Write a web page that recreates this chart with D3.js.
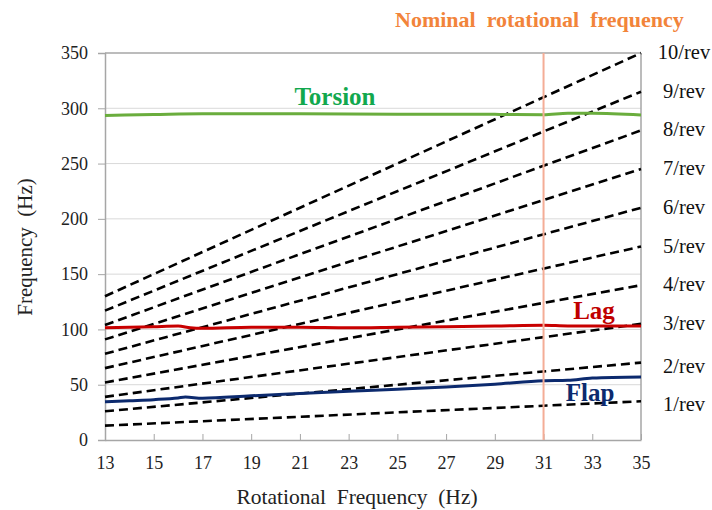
<!DOCTYPE html>
<html>
<head>
<meta charset="utf-8">
<script src="https://cdn.jsdelivr.net/npm/d3@7.9.0/dist/d3.min.js"></script>
</head>
<body style="margin:0;background:#fff">
<svg id="chart" width="712" height="510"></svg>
<script>
// harmonic lines n/rev: frequency at 13 Hz and at 35 Hz
const revOrders = [1, 2, 3, 4, 5, 6, 7, 8, 9, 10];
const revStart = [13, 26, 39, 52, 65, 78, 91, 104, 117, 130];
const revEnd = [35, 70, 105, 140, 175, 210, 245, 280, 315, 350];

// measured modes
const flapX = [13, 14, 15, 16, 16.3, 17, 19, 21, 23, 25, 27, 29, 31, 32, 33, 35];
const flapY = [34.5, 35.5, 36.5, 38, 38.8, 37.8, 40, 42, 44, 46, 48, 50.5, 53.5, 54, 56, 57];
const lagX = [13, 15, 16, 16.5, 17, 19, 21, 23, 25, 27, 29, 31, 32, 35];
const lagY = [101.5, 102.5, 103, 101.5, 101, 102, 102, 101.5, 102, 102.5, 103, 103.8, 103.2, 103.2];
const torX = [13, 15, 17, 21, 25, 29, 31, 32, 33, 35];
const torY = [293.5, 294.3, 295, 295, 294.5, 294.5, 294.2, 295.5, 295.5, 294];

const xTicks = [13, 15, 17, 19, 21, 23, 25, 27, 29, 31, 33, 35];
const yTicks = [0, 50, 100, 150, 200, 250, 300, 350];
const nominalFreq = 31;

const FONT = '"Liberation Serif", "Times New Roman", serif';
const svg = d3.select('#chart');
const m = { left: 105, right: 71, top: 53, bottom: 70 };
const W = 712, H = 510;

const x = d3.scaleLinear().domain([13, 35]).range([m.left, W - m.right]);
const y = d3.scaleLinear().domain([0, 350]).range([H - m.bottom, m.top]);

// gridlines
svg.append('g')
  .selectAll('line')
  .data(yTicks.slice(1))
  .join('line')
  .attr('x1', m.left).attr('x2', W - m.right)
  .attr('y1', d => y(d)).attr('y2', d => y(d))
  .attr('stroke', d => d === 350 ? '#a6a6a6' : '#d9d9d9')
  .attr('stroke-width', d => d === 350 ? 1.5 : 1);

// right border
svg.append('line')
  .attr('x1', W - m.right).attr('x2', W - m.right)
  .attr('y1', m.top).attr('y2', H - m.bottom)
  .attr('stroke', '#a6a6a6').attr('stroke-width', 1.5);

// y axis
const yAxis = svg.append('g')
  .attr('transform', `translate(${m.left},0)`)
  .call(d3.axisLeft(y).tickValues(yTicks).tickSize(7).tickPadding(10));
yAxis.select('.domain').attr('stroke', '#a6a6a6').attr('stroke-width', 1.5);
yAxis.selectAll('.tick line').attr('stroke', '#a6a6a6');
yAxis.selectAll('.tick text')
  .style('font-family', FONT).style('font-size', '18px').attr('fill', '#222');

// x axis (ticks pointing into the plot)
const xAxis = svg.append('g')
  .attr('transform', `translate(0,${H - m.bottom})`)
  .call(d3.axisBottom(x).tickValues(xTicks).tickSizeInner(-6).tickSizeOuter(0).tickPadding(16));
xAxis.select('.domain').attr('stroke', '#a6a6a6').attr('stroke-width', 1.5);
xAxis.selectAll('.tick line').attr('stroke', '#a6a6a6');
xAxis.selectAll('.tick text')
  .style('font-family', FONT).style('font-size', '18px').attr('fill', '#222');

// helper for plain labels
function label(px, py, str, size, color, bold, anchor) {
  return svg.append('text')
    .attr('x', px).attr('y', py)
    .attr('text-anchor', anchor || 'middle')
    .style('font-family', FONT)
    .style('font-size', size + 'px')
    .style('font-weight', bold ? 'bold' : 'normal')
    .style('white-space', 'pre')
    .attr('fill', color)
    .text(str);
}

// axis titles
label(357, 504, 'Rotational  Frequency  (Hz)', 21.5, '#222');
label(0, 0, 'Frequency  (Hz)', 21, '#222')
  .attr('transform', 'translate(32,247) rotate(-90)');

// n/rev dashed lines
svg.append('g')
  .selectAll('line')
  .data(revOrders)
  .join('line')
  .attr('x1', x(13)).attr('x2', x(35))
  .attr('y1', (d, i) => y(revStart[i]))
  .attr('y2', (d, i) => y(revEnd[i]))
  .attr('stroke', '#000')
  .attr('stroke-width', 2.6)
  .attr('stroke-dasharray', '9,5');

// mode curves
const line = d3.line().x(d => x(d[0])).y(d => y(d[1])).curve(d3.curveMonotoneX);
const modes = [
  { xs: torX, ys: torY, color: '#6aad3d' },
  { xs: lagX, ys: lagY, color: '#c80000' },
  { xs: flapX, ys: flapY, color: '#0c2a6e' }
];
modes.forEach(md => {
  svg.append('path')
    .datum(md.xs.map((v, i) => [v, md.ys[i]]))
    .attr('d', line)
    .attr('fill', 'none')
    .attr('stroke', md.color)
    .attr('stroke-width', 3);
});

// nominal rotational frequency
svg.append('line')
  .attr('x1', x(nominalFreq)).attr('x2', x(nominalFreq))
  .attr('y1', m.top).attr('y2', H - m.bottom)
  .attr('stroke', '#f4ad96').attr('stroke-width', 2);

label(395, 27, 'Nominal  rotational  frequency', 22, '#f2843a', true, 'start');

// mode labels
label(335, 105, 'Torsion', 25, '#12a84e', true);
label(594, 319, 'Lag', 25, '#c00000', true);
label(590, 401, 'Flap', 25, '#0c2a6e', true);

// n/rev labels
svg.append('g')
  .selectAll('text')
  .data(revOrders)
  .join('text')
  .attr('x', 684)
  .attr('y', (d, i) => y(revEnd[i]) + 6 + (d <= 2 ? 4 : 0))
  .attr('text-anchor', 'middle')
  .style('font-family', FONT).style('font-size', '20.5px')
  .attr('fill', '#111')
  .text(d => `${d}/rev`);
</script>
</body>
</html>
